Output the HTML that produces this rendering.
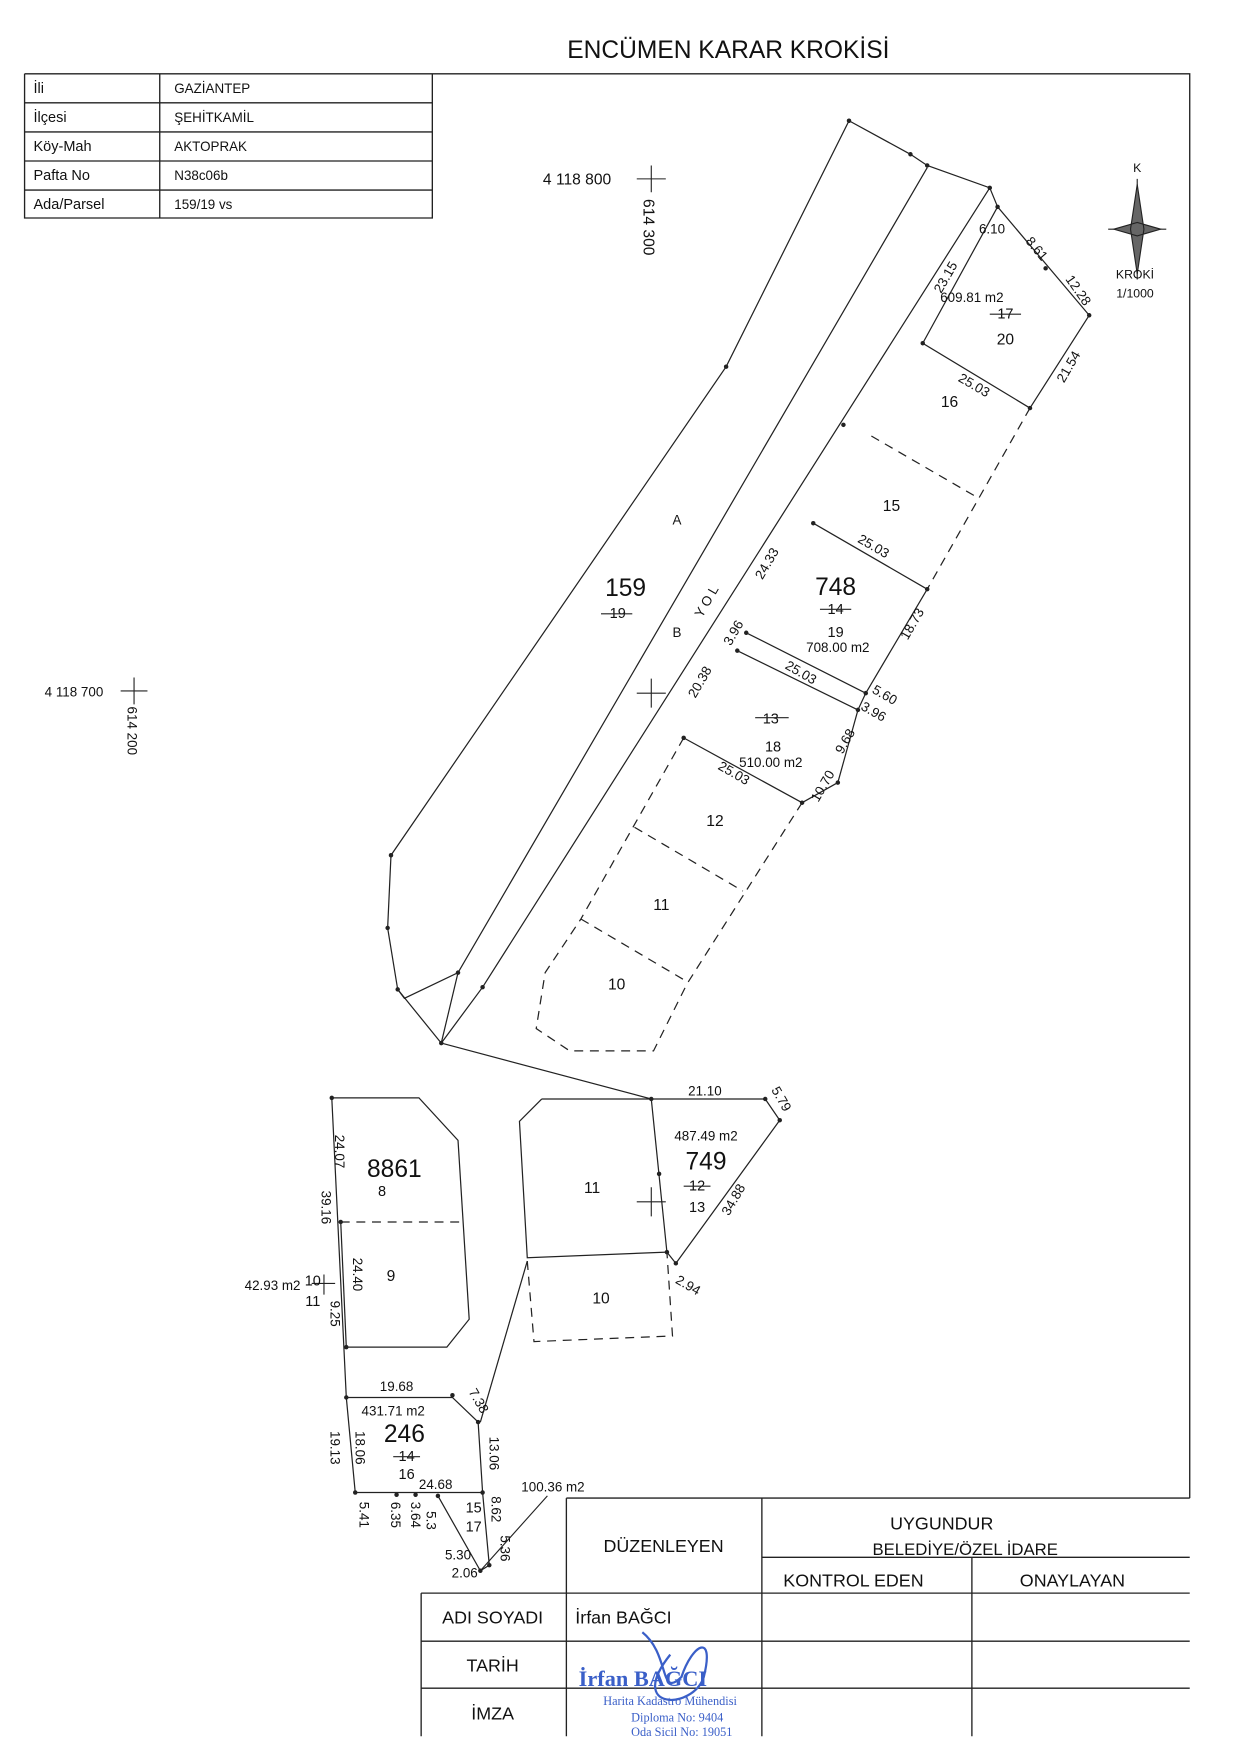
<!DOCTYPE html>
<html><head><meta charset="utf-8"><style>
html,body{margin:0;padding:0;background:#fff}
svg{display:block}
text{font-family:"Liberation Sans",sans-serif;fill:#111}
.st{fill:#3a5fc8 !important;font-family:"Liberation Serif",serif}
</style></head><body>
<svg width="1240" height="1753" viewBox="0 0 1110 1568" preserveAspectRatio="none" xmlns="http://www.w3.org/2000/svg">
<rect x="0" y="0" width="1110" height="1568" fill="#fff"/>
<text x="652" y="52" font-size="22" text-anchor="middle">ENCÜMEN KARAR KROKİSİ</text>
<g stroke="#222" stroke-width="1.2" fill="none">
<path d="M22 66H1065V1340M22 66V195H387V66M22 92H387M22 118H387M22 144H387M22 170H387M143 66V195"/>
<path d="M507 1340H1065M507 1340V1553M682 1340V1553M870 1393V1553M682 1393H1065M377 1425H1065M377 1425V1553M377 1468H1065M377 1510H1065"/>
</g>
<g font-size="13">
<text x="30" y="83">İli</text><text x="30" y="109">İlçesi</text><text x="30" y="135">Köy-Mah</text><text x="30" y="161">Pafta No</text><text x="30" y="187">Ada/Parsel</text>
</g>
<g font-size="12">
<text x="156" y="83">GAZİANTEP</text><text x="156" y="109">ŞEHİTKAMİL</text><text x="156" y="135">AKTOPRAK</text><text x="156" y="161">N38c06b</text><text x="156" y="187">159/19 vs</text>
</g>
<g font-size="16" text-anchor="middle">
<text x="594" y="1388">DÜZENLEYEN</text>
<text x="843" y="1368">UYGUNDUR</text>
<text x="864" y="1391" font-size="15">BELEDİYE/ÖZEL İDARE</text>
<text x="764" y="1419">KONTROL EDEN</text>
<text x="960" y="1419">ONAYLAYAN</text>
<text x="441" y="1452">ADI SOYADI</text>
<text x="441" y="1495">TARİH</text>
<text x="441" y="1538">İMZA</text>
</g>
<text x="515" y="1452" font-size="16">İrfan BAĞCI</text>
<text x="518" y="1508" font-size="20" font-weight="bold" class="st">İrfan BAĞCI</text>
<text x="540" y="1525" font-size="11" class="st">Harita Kadastro Mühendisi</text>
<text x="565" y="1540" font-size="11" class="st">Diploma No: 9404</text>
<text x="565" y="1553" font-size="11" class="st">Oda Sicil No: 19051</text>
<path d="M575 1460C600 1480 590 1520 610 1500C620 1470 640 1460 630 1500C620 1530 560 1530 600 1480" stroke="#3a5fc8" stroke-width="2" fill="none"/>
<g stroke="#222" fill="none">
<path d="M1018 160V250M992 205H1044"/>
<path d="M1018 165L1024 205L1018 245L1012 205Z M997 205L1018 199L1039 205L1018 211Z" fill="#666"/>
</g>
<text x="1018" y="154" font-size="11" text-anchor="middle">K</text>
<text x="1016" y="249" font-size="11" text-anchor="middle">KROKİ</text>
<text x="1016" y="266" font-size="11" text-anchor="middle">1/1000</text>
<g stroke="#222" stroke-width="1">
<path d="M570 160H596M583 148V172M108 618H132M120 606V630M570 620H596M583 607V633M570 1075H596M583 1062V1088M279 1148H300M290 1140V1158"/>
</g>
<text x="486" y="165" font-size="14">4 118 800</text>
<text x="576" y="178" font-size="14" transform="rotate(90 576 178)">614 300</text>
<text x="40" y="623" font-size="12">4 118 700</text>
<text x="114" y="632" font-size="12" transform="rotate(90 114 632)">614 200</text>
<g stroke="#222" stroke-width="1.1" fill="none">
<path d="M760 108L650 328L350 765L347 830L356 885L395 933"/>
<path d="M760 108L815 138L830 148L886 168L893 185L975 282L922 365"/>
<path d="M830 150L410 870L362 893L356 885"/>
<path d="M886 168L432 883L395 933"/>
<path d="M410 870L395 933"/>
<path d="M893 185L826 307L922 365"/>
<path d="M728 468L830 527"/>
<path d="M668 566L775 620M660 582L768 635"/>
<path d="M612 660L718 718"/>
<path d="M775 620L768 635L750 700L718 718"/>
<path d="M830 527L775 620"/>
<path d="M395 933L583 983"/>
</g>
<g stroke="#222" stroke-width="1.1" fill="none" stroke-dasharray="8 6">
<path d="M922 365L830 527"/>
<path d="M780 390L875 445"/>
<path d="M718 718L615 880L585 940L510 940L480 920L488 870L520 822"/>
<path d="M568 740L665 797"/>
<path d="M520 822L615 878"/>
<path d="M612 660L520 822"/>
</g>
<g fill="#222">
<circle cx="760" cy="108" r="2"/><circle cx="815" cy="138" r="2"/><circle cx="830" cy="148" r="2"/><circle cx="886" cy="168" r="2"/><circle cx="893" cy="185" r="2"/><circle cx="975" cy="282" r="2"/><circle cx="922" cy="365" r="2"/><circle cx="650" cy="328" r="2"/><circle cx="350" cy="765" r="2"/><circle cx="347" cy="830" r="2"/><circle cx="356" cy="885" r="2"/><circle cx="395" cy="933" r="2"/><circle cx="410" cy="870" r="2"/><circle cx="432" cy="883" r="2"/><circle cx="826" cy="307" r="2"/><circle cx="728" cy="468" r="2"/><circle cx="830" cy="527" r="2"/><circle cx="775" cy="620" r="2"/><circle cx="768" cy="635" r="2"/><circle cx="750" cy="700" r="2"/><circle cx="718" cy="718" r="2"/><circle cx="612" cy="660" r="2"/><circle cx="668" cy="566" r="2"/><circle cx="660" cy="582" r="2"/><circle cx="755" cy="380" r="2"/><circle cx="936" cy="240" r="2"/>
<circle cx="583" cy="983" r="2"/><circle cx="685" cy="983" r="2"/><circle cx="698" cy="1002" r="2"/><circle cx="605" cy="1130" r="2"/><circle cx="597" cy="1120" r="2"/><circle cx="590" cy="1050" r="2"/>
<circle cx="297" cy="982" r="2"/><circle cx="305" cy="1093" r="2"/><circle cx="310" cy="1205" r="2"/><circle cx="310" cy="1250" r="2"/><circle cx="318" cy="1335" r="2"/><circle cx="405" cy="1248" r="2"/><circle cx="428" cy="1272" r="2"/><circle cx="432" cy="1335" r="2"/><circle cx="438" cy="1400" r="2"/><circle cx="430" cy="1405" r="2"/><circle cx="392" cy="1338" r="2"/><circle cx="355" cy="1337" r="2"/><circle cx="372" cy="1337" r="2"/>
</g>
<g font-size="12" text-anchor="middle">
<text x="606" y="469">A</text>
<text x="560" y="533" font-size="22">159</text>
<text x="553" y="553" font-size="13">19</text>
<path d="M538 549H566" stroke="#222"/>
<text x="606" y="570">B</text>
<text x="636" y="540" transform="rotate(-60 636 540)">Y O L</text>
<text x="748" y="532" font-size="22">748</text>
<text x="748" y="549" font-size="13">14</text><path d="M734 545H762" stroke="#222"/>
<text x="748" y="570" font-size="13">19</text>
<text x="750" y="583">708.00 m2</text>
<text x="690" y="647" font-size="13">13</text><path d="M676 642H706" stroke="#222"/>
<text x="692" y="672" font-size="13">18</text>
<text x="690" y="686">510.00 m2</text>
<text x="870" y="270">609.81 m2</text>
<text x="900" y="285" font-size="13">17</text><path d="M886 281H914" stroke="#222"/>
<text x="900" y="308" font-size="14">20</text>
<text x="850" y="364" font-size="14">16</text>
<text x="798" y="457" font-size="14">15</text>
<text x="640" y="739" font-size="14">12</text>
<text x="592" y="814" font-size="14">11</text>
<text x="552" y="885" font-size="14">10</text>
<text x="888" y="209">6.10</text>
<text x="925" y="225" transform="rotate(50 925 225)">8.61</text>
<text x="962" y="262" transform="rotate(55 962 262)">12.28</text>
<text x="850" y="250" transform="rotate(-60 850 250)">23.15</text>
<text x="960" y="330" transform="rotate(-60 960 330)">21.54</text>
<text x="870" y="348" transform="rotate(30 870 348)">25.03</text>
<text x="780" y="492" transform="rotate(30 780 492)">25.03</text>
<text x="690" y="506" transform="rotate(-60 690 506)">24.33</text>
<text x="820" y="560" transform="rotate(-60 820 560)">18.73</text>
<text x="660" y="568" transform="rotate(-60 660 568)">3.96</text>
<text x="715" y="605" transform="rotate(30 715 605)">25.03</text>
<text x="790" y="625" transform="rotate(30 790 625)">5.60</text>
<text x="780" y="640" transform="rotate(30 780 640)">3.96</text>
<text x="630" y="612" transform="rotate(-60 630 612)">20.38</text>
<text x="760" y="665" transform="rotate(-60 760 665)">9.68</text>
<text x="740" y="705" transform="rotate(-60 740 705)">10.70</text>
<text x="655" y="695" transform="rotate(30 655 695)">25.03</text>
</g>
<g stroke="#222" stroke-width="1.1" fill="none">
<path d="M297 982H375L410 1020L420 1180L400 1205H310"/>
<path d="M297 982L310 1250L318 1335"/>
<path d="M305 1093L310 1205"/>
<path d="M310 1250H405L428 1272L432 1335L318 1335"/>
<path d="M432 1335L438 1400L430 1405L392 1338"/>
<path d="M583 983H685L698 1002L605 1130L597 1120L583 983"/>
<path d="M485 983H583M485 983L465 1003L472 1125L597 1120"/>
<path d="M472 1128L430 1272"/>
</g>
<g stroke="#222" stroke-width="1.1" fill="none" stroke-dasharray="8 6">
<path d="M305 1093H415"/>
<path d="M472 1128L478 1200L602 1195L597 1120"/>
</g>
<g font-size="12" text-anchor="middle">
<text x="353" y="1053" font-size="22">8861</text>
<text x="342" y="1070" font-size="13">8</text>
<text x="350" y="1146" font-size="14">9</text>
<text x="244" y="1154">42.93 m2</text>
<text x="280" y="1150" font-size="13">10</text>
<text x="280" y="1168" font-size="13">11</text>
<text x="530" y="1067" font-size="14">11</text>
<text x="538" y="1166" font-size="14">10</text>
<text x="632" y="1020">487.49 m2</text>
<text x="632" y="1046" font-size="22">749</text>
<text x="624" y="1065" font-size="13">12</text><path d="M612 1061H636" stroke="#222"/>
<text x="624" y="1084" font-size="13">13</text>
<text x="631" y="980">21.10</text>
<text x="696" y="985" transform="rotate(60 696 985)">5.79</text>
<text x="660" y="1075" transform="rotate(-60 660 1075)">34.88</text>
<text x="614" y="1153" transform="rotate(30 614 1153)">2.94</text>
<text x="355" y="1244">19.68</text>
<text x="352" y="1266">431.71 m2</text>
<text x="362" y="1290" font-size="22">246</text>
<text x="364" y="1307" font-size="13">14</text><path d="M352 1303H376" stroke="#222"/>
<text x="364" y="1323" font-size="13">16</text>
<text x="390" y="1332">24.68</text>
<text x="425" y="1255" transform="rotate(60 425 1255)">7.38</text>
<text x="438" y="1300" transform="rotate(90 438 1300)">13.06</text>
<text x="300" y="1030" transform="rotate(90 300 1030)">24.07</text>
<text x="288" y="1080" transform="rotate(90 288 1080)">39.16</text>
<text x="316" y="1140" transform="rotate(90 316 1140)">24.40</text>
<text x="296" y="1175" transform="rotate(90 296 1175)">9.25</text>
<text x="296" y="1295" transform="rotate(90 296 1295)">19.13</text>
<text x="318" y="1295" transform="rotate(90 318 1295)">18.06</text>
<text x="495" y="1334">100.36 m2</text>
<text x="424" y="1353" font-size="13">15</text>
<text x="424" y="1370" font-size="13">17</text>
<text x="410" y="1395">5.30</text>
<text x="416" y="1411">2.06</text>
<text x="322" y="1355" transform="rotate(90 322 1355)">5.41</text>
<text x="350" y="1355" transform="rotate(90 350 1355)">6.35</text>
<text x="368" y="1355" transform="rotate(90 368 1355)">3.64</text>
<text x="382" y="1360" transform="rotate(90 382 1360)">5.3</text>
<text x="440" y="1350" transform="rotate(90 440 1350)">8.62</text>
<text x="448" y="1385" transform="rotate(90 448 1385)">5.36</text>
</g>
<path d="M430 1405L490 1338" stroke="#222" fill="none"/>
</svg>
</body></html>
